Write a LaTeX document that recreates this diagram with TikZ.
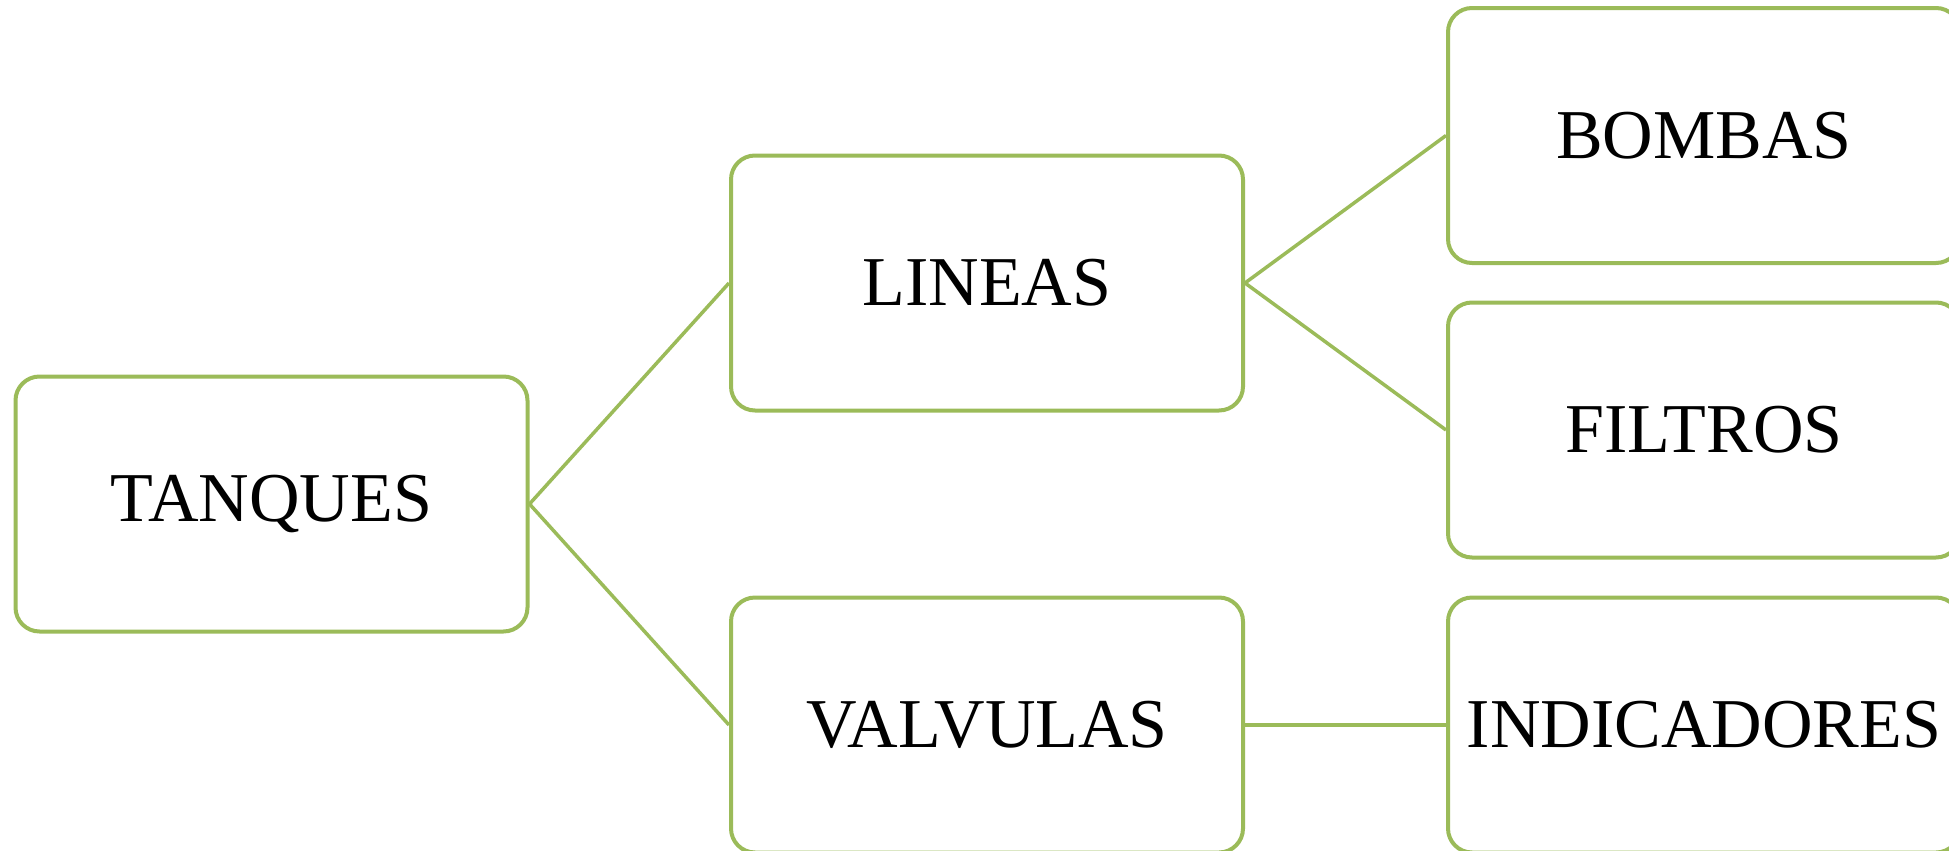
\documentclass[tikz,border=0pt]{standalone}
\usepackage{fontspec}
\setmainfont{Liberation Serif}
\definecolor{boxgreen}{HTML}{9BBB59}
\begin{document}
\begin{tikzpicture}[x=0.5pt,y=-0.5pt,
  box/.style={draw=boxgreen, line width=2pt, rounded corners=12pt,
    minimum width=256pt, minimum height=127.5pt, inner sep=0pt,
    fill=white, font=\fontsize{35}{42}\selectfont},
  link/.style={draw=boxgreen, line width=1.75pt}]
\useasboundingbox (0,0) rectangle (1949,851);
\clip (0,0) rectangle (1949,851);
\node[box] (tanques) at (271.5,504) {TANQUES};
\node[box] (lineas) at (987,283) {LINEAS};
\node[box] (valvulas) at (987,725) {VALVULAS};
\node[box] (bombas) at (1704,135.5) {BOMBAS};
\node[box] (filtros) at (1704,430) {FILTROS};
\node[box] (indicadores) at (1704,725) {INDICADORES};
\draw[link] (tanques.east) -- (lineas.west);
\draw[link] (tanques.east) -- (valvulas.west);
\draw[link] (lineas.east) -- (bombas.west);
\draw[link] (lineas.east) -- (filtros.west);
\draw[link] (valvulas.east) -- (indicadores.west);
\end{tikzpicture}
\end{document}
